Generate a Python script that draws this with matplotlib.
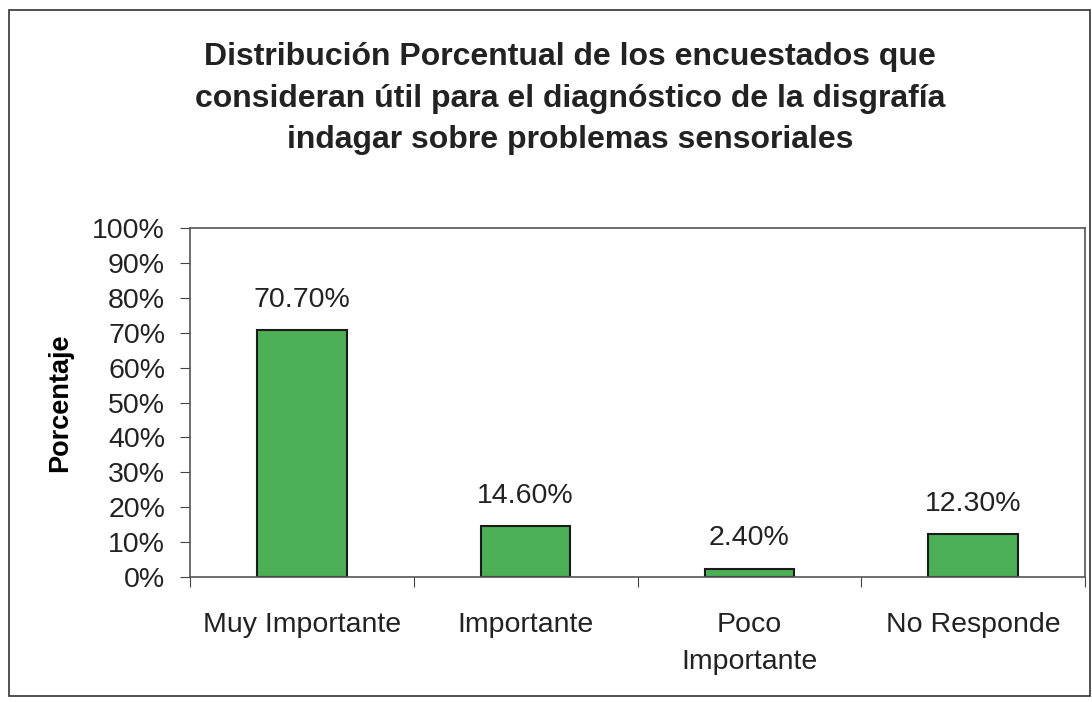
import numpy as np
from matplotlib import pyplot as plt
from matplotlib.patches import Rectangle
from matplotlib.ticker import FuncFormatter

categories = ['Muy Importante', 'Importante', 'Poco\nImportante', 'No Responde']
values = [70.7, 14.6, 2.4, 12.3]
labels = ['70.70%', '14.60%', '2.40%', '12.30%']

plt.rcParams['font.family'] = ['Liberation Sans', 'DejaVu Sans']

fig = plt.figure(figsize=(10.92, 7.02), dpi=100)
ax = fig.add_axes([0.174, 0.178, 0.8196, 0.497])

x = np.arange(len(categories))
ax.bar(x, values, width=0.4, color='#4caf55', edgecolor='#1a1a1a', linewidth=1.5)
for xi, v, lab in zip(x, values, labels):
    ax.text(xi, v + 5, lab, ha='center', va='bottom', fontsize=20.5, color='#222222')

ax.set_xlim(-0.5, len(categories) - 0.5)
ax.set_ylim(0, 100)
ax.set_yticks(np.arange(0, 101, 10))
ax.yaxis.set_major_formatter(FuncFormatter(lambda v, p: '%d%%' % v))
ax.set_xticks(np.arange(-0.5, len(categories), 1))
ax.set_xticklabels([])
ax.set_xticks(x, minor=True)
ax.set_xticklabels(categories, minor=True, fontsize=20.5, color='#222222', linespacing=1.55)
ax.tick_params(axis='x', which='minor', length=0, pad=25)
ax.tick_params(axis='x', which='major', length=7, direction='out', color='#444444')
ax.tick_params(axis='y', labelsize=20.5, labelcolor='#222222', length=7, color='#444444', pad=11)
for s in ax.spines.values():
    s.set_color('#555555')
    s.set_linewidth(1.2)
ax.set_ylabel('Porcentaje', fontsize=19.5, fontweight='bold', labelpad=14)

fig.text(0.522, 0.859, 'Distribución Porcentual de los encuestados que\n'
         'consideran útil para el diagnóstico de la disgrafía\n'
         'indagar sobre problemas sensoriales',
         ha='center', va='center', fontsize=23, fontweight='bold',
         color='#222222', linespacing=1.5)

fig.patches.append(Rectangle((0.008, 0.008), 0.99, 0.978, transform=fig.transFigure,
                             fill=False, edgecolor='#333333', linewidth=1.2))

plt.savefig('out.png', dpi=100)
